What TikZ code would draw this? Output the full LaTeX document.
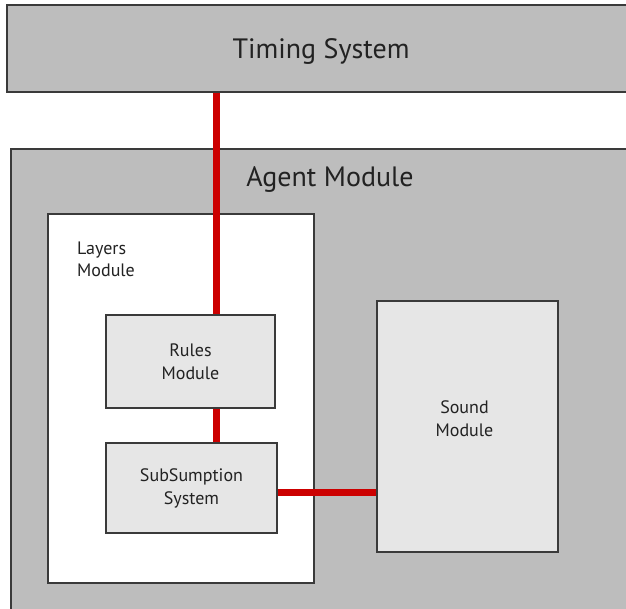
\documentclass[tikz,border=0pt]{standalone}
\usepackage{fontspec}
\setmainfont{PT Sans}
\definecolor{outerfill}{HTML}{BDBDBD}
\definecolor{innerfill}{HTML}{E6E6E6}
\definecolor{wirered}{HTML}{CC0000}
\definecolor{edgegray}{HTML}{3A3A3A}
\definecolor{ink}{HTML}{222222}
\begin{document}
\begin{tikzpicture}[x=1pt,y=-1pt,
  box/.style={draw=edgegray, line width=1.6pt, inner sep=0pt, rectangle},
  bigtxt/.style={font=\fontsize{28}{32}\selectfont, text=ink, inner sep=0pt, anchor=base},
  smalltxt/.style={font=\fontsize{18}{23}\selectfont, text=ink, align=center},
  sidetxt/.style={font=\fontsize{18}{22}\selectfont, text=ink, inner sep=0pt, anchor=base west},
  wirestyle/.style={draw=wirered, line width=7pt}]
\useasboundingbox[fill=white] (0,0) rectangle (626,609);
% boxes
\node[box, fill=outerfill, minimum width=640pt, minimum height=87pt] (timing) at (327,48.5) {};
\node[box, fill=outerfill, minimum width=640pt, minimum height=480pt] (agent) at (331,389) {};
\node[box, fill=white, minimum width=266pt, minimum height=369pt] (layers) at (181,398.5) {};
\node[box, fill=innerfill, minimum width=169pt, minimum height=93pt, smalltxt] (rules) at (190.5,361.5) {Rules\\Module};
\node[box, fill=innerfill, minimum width=171pt, minimum height=90pt, smalltxt] (sub) at (191.5,488) {SubSumption\\System};
\node[box, fill=innerfill, minimum width=181pt, minimum height=251pt] (sound) at (467.5,426.5) {};
% texts
\node[bigtxt] (timingtxt) at (321,59) {Timing System};
\node[bigtxt] (agenttxt) at (330,187) {Agent Module};
\node[sidetxt] (layerstxtA) at (77,255) {Layers};
\node[sidetxt] (layerstxtB) at (77,277) {Module};
\node[smalltxt] (soundtxt) at ([xshift=-3pt,yshift=8pt]sound.center) {Sound\\Module};
% wires
\coordinate (wx) at (216,0);
\coordinate (wy) at (0,492);
\draw[wirestyle] (timing.south -| wx) -- (rules.north -| wx);
\draw[wirestyle] (rules.south -| wx) -- (sub.north -| wx);
\draw[wirestyle] (sub.east |- wy) -- (sound.west |- wy);
\end{tikzpicture}
\end{document}
